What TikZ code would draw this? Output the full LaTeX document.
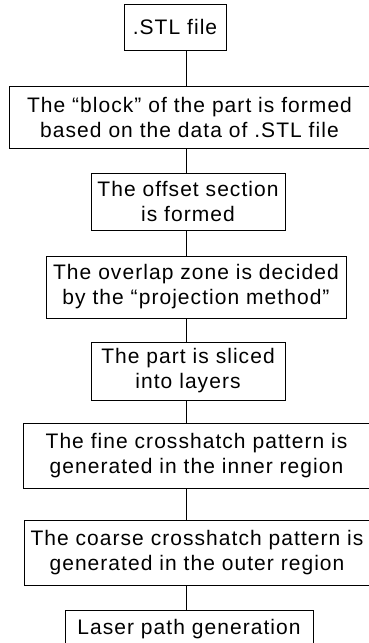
\documentclass[tikz,border=0pt]{standalone}
\usepackage{fontspec}
\setmainfont{Liberation Sans}[LetterSpace=5]
\usetikzlibrary{positioning}
\tikzset{
  stepBox/.style={draw=black, line width=1pt, fill=white, align=center, inner sep=0pt, font=\fontsize{21}{25}\selectfont},
  stepLine/.style={draw=black, line width=1pt}
}

\begin{document}
\begin{tikzpicture}[x=1pt,y=-1pt]
  \clip (0,0) rectangle (369,643);
  \coordinate (axis) at (186,0);
  \node[stepBox, minimum width=102pt, minimum height=46pt] (stl) at (175,27) {.STL file};
  \node[stepBox, minimum width=361pt, minimum height=62pt] (block) at (189.5,117) {The “block” of the part is formed\\based on the data of .STL file};
  \node[stepBox, minimum width=194pt, minimum height=57pt] (offset) at (188,201.5) {The offset section\\is formed};
  \node[stepBox, minimum width=300pt, minimum height=62pt] (overlap) at (196,287) {The overlap zone is decided\\by the “projection method”};
  \node[stepBox, minimum width=194pt, minimum height=58pt] (slice) at (188,371) {The part is sliced\\into layers};
  \node[stepBox, minimum width=347pt, minimum height=65pt] (fine) at (196.5,455.5) {The fine crosshatch pattern is\\generated in the inner region};
  \node[stepBox, minimum width=346pt, minimum height=65pt] (coarse) at (197,552.5) {The coarse crosshatch pattern is\\generated in the outer region};
  \node[stepBox, minimum width=248pt, minimum height=50pt, text depth=16pt] (laser) at (189,635) {Laser path generation};
  \draw[stepLine] (stl.south -| axis) -- (block.north -| axis);
  \draw[stepLine] (block.south -| axis) -- (offset.north -| axis);
  \draw[stepLine] (offset.south -| axis) -- (overlap.north -| axis);
  \draw[stepLine] (overlap.south -| axis) -- (slice.north -| axis);
  \draw[stepLine] (slice.south -| axis) -- (fine.north -| axis);
  \draw[stepLine] (fine.south -| axis) -- (coarse.north -| axis);
  \draw[stepLine] (coarse.south -| axis) -- (laser.north -| axis);
\end{tikzpicture}
\end{document}
